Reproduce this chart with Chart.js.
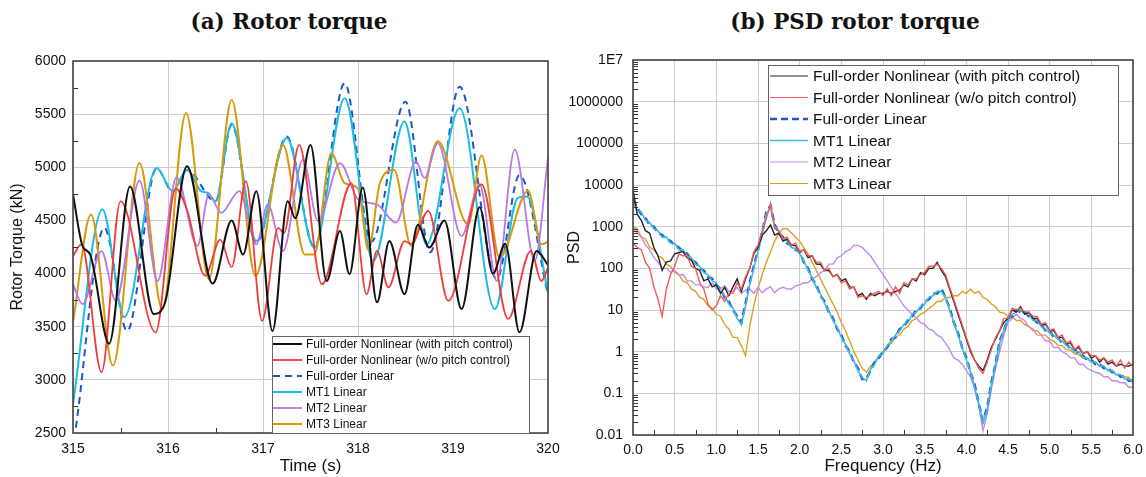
<!DOCTYPE html>
<html>
<head>
<meta charset="utf-8">
<script src="https://cdn.jsdelivr.net/npm/chart.js@4.4.1/dist/chart.umd.min.js"></script>
<style>
  body { margin: 0; background: #fff; width: 1146px; height: 477px; overflow: hidden; position: relative; }
  .title { position: absolute; top: 9px; line-height: 26px; font-family: "DejaVu Serif", serif; font-weight: bold; font-size: 21.5px; white-space: nowrap; transform: translateX(-50%); color: #111; }
  #wrapA { position: absolute; left: 0; top: 0; width: 560px; height: 477px; }
  #wrapB { position: absolute; left: 560px; top: 0; width: 586px; height: 477px; }
</style>
</head>
<body>
<div class="title" style="left:289px">(a) Rotor torque</div>
<div class="title" style="left:855px">(b) PSD rotor torque</div>
<div id="wrapA"><canvas id="torqueChart" width="560" height="477"></canvas></div>
<div id="wrapB"><canvas id="psdChart" width="586" height="477"></canvas></div>
<script>
// ---- (a) rotor torque, key points (time s, torque kN)
const blackT = [315.0, 315.1, 315.18, 315.38, 315.6, 315.85, 315.97, 316.2, 316.47, 316.67, 316.79, 316.93, 317.1, 317.26, 317.34, 317.5, 317.67, 317.81, 317.91, 318.05, 318.2, 318.33, 318.49, 318.63, 318.75, 318.91, 319.09, 319.28, 319.42, 319.55, 319.7, 319.88, 320.0];
const blackV = [4744, 4260, 4180, 3340, 4820, 3620, 3730, 5010, 3906, 4500, 4180, 4775, 3460, 4680, 4520, 5210, 3930, 4400, 3995, 4810, 3730, 4306, 3806, 4460, 4245, 4500, 3666, 4625, 4000, 4280, 3447, 4213, 4080];

const redT = [315.0, 315.09, 315.3, 315.5, 315.87, 316.08, 316.2, 316.39, 316.55, 316.67, 316.82, 316.99, 317.16, 317.22, 317.38, 317.62, 317.93, 318.09, 318.2, 318.32, 318.49, 318.56, 318.74, 318.95, 319.3, 319.58, 319.82, 319.93, 320.0];
const redV = [4166, 4275, 3072, 4680, 3447, 4800, 4600, 3980, 4320, 4060, 4870, 3556, 4430, 4380, 5210, 3900, 4850, 3806, 4213, 3870, 4306, 4280, 4590, 3744, 4840, 3575, 4213, 3930, 4055];

const fullLinT = [315.03, 315.33, 315.57, 315.88, 316.05, 316.2, 316.5, 316.67, 316.93, 317.25, 317.54, 317.86, 318.14, 318.5, 318.76, 319.07, 319.46, 319.7, 320.0];
const fullLinV = [2550, 4430, 3460, 4990, 4770, 4975, 4680, 5400, 4290, 5290, 4250, 5790, 4300, 5617, 4200, 5758, 3950, 4927, 3800];

const mt1T = [315.0, 315.31, 315.54, 315.88, 316.05, 316.2, 316.35, 316.42, 316.5, 316.67, 316.93, 317.25, 317.54, 317.86, 318.16, 318.49, 318.72, 319.07, 319.44, 319.68, 319.78, 320.0];
const mt1V = [2775, 4603, 3590, 4994, 4775, 4980, 4775, 4760, 4680, 5415, 4306, 5275, 4244, 5650, 4120, 5430, 4275, 5556, 3666, 4710, 4725, 3820];

const mt2T = [315.0, 315.1, 315.3, 315.45, 315.7, 315.89, 316.09, 316.31, 316.43, 316.56, 316.75, 316.93, 317.05, 317.21, 317.42, 317.58, 317.81, 318.0, 318.2, 318.4, 318.61, 318.7, 318.84, 319.09, 319.28, 319.46, 319.65, 319.86, 320.0];
const mt2V = [3900, 3712, 4212, 3744, 4875, 3930, 4906, 4260, 4744, 4572, 4775, 4275, 4650, 4212, 5072, 4494, 5040, 4700, 4650, 4480, 5056, 4900, 5228, 4353, 4838, 3930, 5166, 4120, 5088];

const mt3T = [315.0, 315.19, 315.42, 315.7, 315.94, 316.19, 316.43, 316.67, 316.92, 317.21, 317.44, 317.54, 317.72, 317.86, 318.0, 318.11, 318.23, 318.38, 318.56, 318.84, 319.16, 319.3, 319.49, 319.79, 319.93, 320.0];
const mt3V = [3540, 4556, 3134, 5040, 3666, 5510, 3947, 5634, 3978, 5210, 4180, 4180, 5130, 4850, 4800, 4220, 4850, 4975, 4260, 5244, 4460, 5110, 4150, 4780, 4275, 4300];

const timeTicks = { min: 315, max: 320, step: 1 };
const torqueTicks = { min: 2500, max: 6000, step: 500 };

// ---- (b) PSD of rotor torque, sampled every 0.05 Hz
const freq = [0, 0.05, 0.1, 0.15, 0.2, 0.25, 0.3, 0.35, 0.4, 0.45,
  0.5, 0.55, 0.6, 0.65, 0.7, 0.75, 0.8, 0.85, 0.9, 0.95,
  1, 1.05, 1.1, 1.15, 1.2, 1.25, 1.3, 1.35, 1.4, 1.45,
  1.5, 1.55, 1.6, 1.65, 1.7, 1.75, 1.8, 1.85, 1.9, 1.95,
  2, 2.05, 2.1, 2.15, 2.2, 2.25, 2.3, 2.35, 2.4, 2.45,
  2.5, 2.55, 2.6, 2.65, 2.7, 2.75, 2.8, 2.85, 2.9, 2.95,
  3, 3.05, 3.1, 3.15, 3.2, 3.25, 3.3, 3.35, 3.4, 3.45,
  3.5, 3.55, 3.6, 3.65, 3.7, 3.75, 3.8, 3.85, 3.9, 3.95,
  4, 4.05, 4.1, 4.15, 4.2, 4.25, 4.3, 4.35, 4.4, 4.45,
  4.5, 4.55, 4.6, 4.65, 4.7, 4.75, 4.8, 4.85, 4.9, 4.95,
  5, 5.05, 5.1, 5.15, 5.2, 5.25, 5.3, 5.35, 5.4, 5.45,
  5.5, 5.55, 5.6, 5.65, 5.7, 5.75, 5.8, 5.85, 5.9, 5.95, 6];

const psdBlack = [7900, 2000, 1410, 800, 700, 316, 200, 89, 141, 150,
  224, 240, 251, 180, 158, 100, 89, 50, 56, 36,
  40, 25, 35, 22, 36, 56, 28, 56, 100, 224,
  320, 630, 800, 1100, 630, 700, 450, 500, 360, 350,
  250, 280, 180, 200, 126, 125, 89, 89, 63, 71,
  50, 56, 36, 35, 22, 25, 18, 25, 22, 25,
  25, 28, 25, 28, 30, 40, 36, 56, 50, 79,
  71, 100, 100, 140, 89, 63, 32, 16, 7.9, 4,
  2, 1, 0.63, 0.45, 0.35, 0.63, 1.26, 2, 3.2, 5,
  6.3, 10, 9, 12, 8, 8.9, 6.3, 6.3, 4.5, 4.5,
  3.2, 3.2, 2.2, 2.2, 1.6, 1.6, 1.12, 1.26, 0.9, 1,
  0.7, 0.8, 0.56, 0.7, 0.5, 0.56, 0.45, 0.5, 0.45, 0.45, 0.5];

const psdRed = [400, 320, 280, 141, 100, 36, 18, 7, 32, 70,
  112, 224, 200, 200, 112, 100, 45, 32, 14, 10,
  12.6, 22, 16, 25, 25, 45, 32, 63, 100, 250,
  360, 800, 1580, 3550, 900, 800, 500, 560, 360, 400,
  250, 280, 200, 200, 141, 141, 89, 100, 63, 70,
  45, 50, 32, 36, 20, 22, 20, 22, 25, 28,
  22, 32, 22, 36, 25, 45, 40, 56, 56, 71,
  80, 112, 112, 126, 100, 71, 35, 18, 8.9, 4.5,
  2.2, 1.12, 0.63, 0.4, 0.3, 0.56, 1.12, 2.2, 3.2, 6.3,
  6.3, 11, 10, 11, 9, 8.9, 7, 7, 4.5, 5,
  3.2, 3.5, 2.2, 2.5, 1.6, 1.8, 1.12, 1.4, 0.9, 1,
  0.8, 0.8, 0.63, 0.71, 0.56, 0.63, 0.45, 0.63, 0.4, 0.56, 0.45];

const psdFullLin = [4500, 2800, 2000, 1580, 1120, 1000, 710, 630, 500, 450,
  355, 316, 251, 224, 158, 141, 100, 89, 63, 56,
  40, 32, 20, 16, 10, 7.1, 5, 14, 45, 112,
  280, 710, 2240, 3160, 1120, 710, 560, 400, 355, 280,
  251, 141, 100, 56, 40, 22, 16, 8.9, 6.3, 3.5,
  2.5, 1.4, 1, 0.56, 0.4, 0.22, 0.22, 0.35, 0.56, 0.71,
  1, 1.26, 2, 2.2, 3.5, 4, 5.6, 7.1, 10, 11,
  16, 18, 25, 25, 32, 20, 11, 5, 2.8, 1.26,
  0.71, 0.32, 0.16, 0.056, 0.022, 0.045, 0.18, 0.5, 1.8, 3.2,
  6.3, 7.1, 10, 8.9, 8.9, 7.1, 6.3, 5, 4.5, 3.2,
  3.2, 2.2, 2.2, 1.6, 1.6, 1.12, 1.12, 0.89, 0.79, 0.63,
  0.63, 0.5, 0.5, 0.4, 0.4, 0.32, 0.32, 0.25, 0.25, 0.2, 0.2];

const psdMT1 = [4000, 2500, 2240, 1410, 1260, 890, 790, 560, 560, 400,
  400, 280, 280, 200, 180, 126, 112, 79, 70, 50,
  45, 28, 22, 14, 11, 6.3, 4.5, 12.6, 40, 100,
  251, 630, 2000, 2820, 1000, 790, 500, 450, 316, 300,
  224, 150, 89, 60, 35, 24, 14, 9.5, 5.6, 3.8,
  2.2, 1.5, 0.89, 0.6, 0.35, 0.24, 0.2, 0.38, 0.5, 0.8,
  0.89, 1.4, 1.8, 2.5, 3.2, 4.5, 5, 7.9, 8.9, 12,
  14, 20, 22, 28, 28, 20, 10, 5, 2.5, 1.26,
  0.63, 0.32, 0.14, 0.056, 0.02, 0.04, 0.16, 0.5, 1.6, 3.2,
  5.6, 7.9, 8.9, 10, 7.9, 7.9, 5.6, 5.6, 4, 3.5,
  2.8, 2.5, 2, 1.8, 1.4, 1.26, 1, 1, 0.71, 0.71,
  0.56, 0.56, 0.45, 0.45, 0.35, 0.35, 0.28, 0.28, 0.22, 0.22, 0.18];

const psdMT2 = [1000, 700, 560, 360, 280, 180, 141, 100, 100, 80,
  89, 70, 71, 50, 50, 40, 40, 36, 35, 45,
  32, 32, 38, 28, 28, 35, 25, 30, 32, 25,
  35, 26, 32, 36, 26, 32, 35, 32, 32, 38,
  40, 45, 45, 56, 63, 79, 89, 126, 126, 178,
  200, 250, 280, 355, 355, 320, 251, 200, 141, 100,
  71, 50, 35, 25, 18, 12.6, 10, 7.9, 6.3, 5,
  4.5, 3.5, 3.2, 2.5, 2.2, 1.6, 1.12, 0.71, 0.63, 0.5,
  0.35, 0.25, 0.126, 0.05, 0.0126, 0.032, 0.126, 0.4, 1, 2.5,
  5, 6.3, 7.9, 6.3, 5.6, 4, 3.5, 2.5, 2.5, 1.8,
  1.8, 1.26, 1.26, 1, 0.89, 0.71, 0.71, 0.5, 0.5, 0.4,
  0.35, 0.32, 0.3, 0.25, 0.25, 0.2, 0.2, 0.18, 0.18, 0.14, 0.14];

const psdMT3 = [1000, 890, 560, 500, 320, 280, 200, 178, 126, 112,
  80, 71, 50, 45, 32, 28, 20, 18, 12.6, 11,
  7.9, 7.1, 4.5, 3.5, 2.2, 2.2, 1.4, 0.79, 4, 12.6,
  32, 71, 141, 251, 450, 710, 890, 890, 710, 560,
  450, 316, 224, 141, 89, 56, 35, 22, 14, 8.9,
  5, 3.2, 1.8, 1, 0.63, 0.4, 0.32, 0.45, 0.56, 0.79,
  1, 1.4, 1.6, 2.2, 2.5, 3.5, 4, 5.6, 6.3, 7.9,
  8.9, 11, 12.6, 16, 16, 20, 20, 22, 22, 28,
  25, 32, 25, 28, 20, 18, 14, 12, 8.9, 8.5,
  7.1, 7, 5.6, 5.6, 4.5, 4, 3.2, 3.2, 2.5, 2.5,
  2, 1.8, 1.4, 1.4, 1.12, 1.1, 0.89, 0.85, 0.71, 0.7,
  0.56, 0.56, 0.45, 0.45, 0.35, 0.36, 0.28, 0.28, 0.25, 0.24, 0.18];

const psdTickValues = [0.01, 0.1, 1, 10, 100, 1000, 10000, 100000, 1000000, 10000000];
const psdTickLabels = ["0.01", "0.1", "1", "10", "100", "1000", "10000", "100000", "1000000", "1E7"];

const seriesLabels = [
  "Full-order Nonlinear (with pitch control)",
  "Full-order Nonlinear (w/o pitch control)",
  "Full-order Linear",
  "MT1 Linear",
  "MT2 Linear",
  "MT3 Linear"
];

Chart.defaults.font.family = '"Liberation Sans", Arial, sans-serif';
Chart.defaults.color = "#111";

function pts(xs, ys) {
  return xs.map((x, i) => ({ x: x, y: ys[i] }));
}

// frame, minor ticks (inward) and boxed legend inside the plot
const framePlugin = {
  id: "frame",
  afterDraw(chart, args, o) {
    const ctx = chart.ctx;
    const a = chart.chartArea;
    const sx = chart.scales.x, sy = chart.scales.y;
    ctx.save();
    ctx.strokeStyle = "#333";
    ctx.lineWidth = 1;
    ctx.beginPath();
    (o.xMinor || []).forEach(v => {
      const px = Math.round(sx.getPixelForValue(v)) + 0.5;
      ctx.moveTo(px, a.bottom); ctx.lineTo(px, a.bottom - 5);
    });
    (o.yMinor || []).forEach(v => {
      const py = Math.round(sy.getPixelForValue(v)) + 0.5;
      ctx.moveTo(a.left, py); ctx.lineTo(a.left + 5, py);
    });
    ctx.stroke();

    ctx.strokeStyle = "#444";
    ctx.lineWidth = 1.6;
    ctx.strokeRect(a.left, a.top, a.right - a.left, a.bottom - a.top);

    if (o.box) {
      const b = o.box;
      ctx.fillStyle = "#fff";
      ctx.fillRect(b[0], b[1], b[2], b[3]);
      ctx.strokeStyle = "#666";
      ctx.lineWidth = 1;
      ctx.strokeRect(b[0] + 0.5, b[1] + 0.5, b[2], b[3]);
      ctx.font = o.font;
      ctx.textBaseline = "middle";
      chart.data.datasets.forEach((ds, i) => {
        const y = o.rowY + i * o.rowH;
        ctx.beginPath();
        ctx.setLineDash(ds.borderDash || []);
        ctx.strokeStyle = ds.borderColor;
        ctx.lineWidth = o.sampleWidth ? o.sampleWidth[i] : ds.borderWidth;
        ctx.moveTo(o.lineX[0], y);
        ctx.lineTo(o.lineX[1], y);
        ctx.stroke();
        ctx.setLineDash([]);
        ctx.fillStyle = "#111";
        ctx.fillText(ds.label, o.textX, y + 1);
      });
    }
    ctx.restore();
  }
};

// keep the x scale from reserving extra room for its end labels
function fixX(h) {
  return s => { s.height = h; s.paddingLeft = 0; s.paddingRight = 0; };
}

// minor tick positions
const timeMinor = [];
for (let t = 315.5; t < 320; t += 1) timeMinor.push(t);
const torqueMinor = [];
for (let v = 2750; v < 6000; v += 500) torqueMinor.push(v);
const freqMinor = [];
for (let f = 0.25; f < 6; f += 0.5) freqMinor.push(f);
const psdMinor = [];
for (let d = -2; d < 7; d++) for (let m = 2; m < 10; m++) psdMinor.push(m * Math.pow(10, d));

// ---------- (a) Rotor torque
const torqueColors = ["#111111", "#f03c3c", "#1f56c6", "#1cbde2", "#b87ae2", "#d69a0c"];

new Chart(document.getElementById("torqueChart"), {
  type: "line",
  data: {
    datasets: [
      { label: seriesLabels[0], data: pts(blackT, blackV), borderColor: torqueColors[0], borderWidth: 2 },
      { label: seriesLabels[1], data: pts(redT, redV), borderColor: torqueColors[1], borderWidth: 1.8 },
      { label: seriesLabels[2], data: pts(fullLinT, fullLinV), borderColor: torqueColors[2], borderWidth: 2, borderDash: [7, 5], order: 2 },
      { label: seriesLabels[3], data: pts(mt1T, mt1V), borderColor: torqueColors[3], borderWidth: 2, order: 1 },
      { label: seriesLabels[4], data: pts(mt2T, mt2V), borderColor: torqueColors[4], borderWidth: 1.8 },
      { label: seriesLabels[5], data: pts(mt3T, mt3V), borderColor: torqueColors[5], borderWidth: 2 }
    ]
  },
  options: {
    responsive: false,
    animation: false,
    events: [],
    layout: { padding: { top: 61, right: 12, left: 0, bottom: 0 } },
    elements: {
      point: { radius: 0 },
      line: { cubicInterpolationMode: "monotone", fill: false }
    },
    plugins: {
      legend: { display: false },
      tooltip: { enabled: false },
      frame: {
        xMinor: timeMinor,
        yMinor: torqueMinor,
        box: [272, 336, 257, 97],
        rowY: 344,
        rowH: 16,
        lineX: [273, 302],
        textX: 306,
        font: '12px "Liberation Sans", Arial, sans-serif'
      }
    },
    scales: {
      x: {
        type: "linear",
        min: timeTicks.min,
        max: timeTicks.max,
        ticks: { stepSize: timeTicks.step, padding: 8, font: { size: 14 }, callback: v => String(v) },
        grid: { color: "#cdcdcd", drawTicks: false },
        border: { display: false },
        title: { display: true, text: "Time (s)", font: { size: 17 }, padding: { top: 0, bottom: 0 } },
        afterFit: fixX(44)
      },
      y: {
        min: torqueTicks.min,
        max: torqueTicks.max,
        ticks: { stepSize: torqueTicks.step, padding: 7, font: { size: 14 }, callback: v => String(v) },
        grid: { color: "#cdcdcd", drawTicks: false },
        border: { display: false },
        title: { display: true, text: "Rotor Torque (kN)", font: { size: 16 }, padding: { top: 8, bottom: 0 } },
        afterFit(s) { s.width = 73; }
      }
    }
  },
  plugins: [framePlugin]
});

// ---------- (b) PSD rotor torque
const psdColors = ["#222222", "#f25a5a", "#2257c8", "#3bbbe3", "#c48be6", "#dda125"];

function psdSet(i, values, extra) {
  return Object.assign({
    label: seriesLabels[i],
    data: pts(freq, values),
    borderColor: psdColors[i],
    borderWidth: 1.4,
    tension: 0
  }, extra || {});
}

new Chart(document.getElementById("psdChart"), {
  type: "line",
  data: {
    datasets: [
      psdSet(0, psdBlack, { order: 2 }),
      psdSet(1, psdRed, { order: 1 }),
      psdSet(2, psdFullLin, { borderWidth: 2.5, borderDash: [7, 4], order: 4 }),
      psdSet(3, psdMT1, { borderWidth: 1.6, order: 3 }),
      psdSet(4, psdMT2, { order: 5 }),
      psdSet(5, psdMT3, { order: 6 })
    ]
  },
  options: {
    responsive: false,
    animation: false,
    events: [],
    layout: { padding: { top: 60, right: 13, left: 0, bottom: 0 } },
    elements: { point: { radius: 0 } },
    plugins: {
      legend: { display: false },
      tooltip: { enabled: false },
      frame: {
        xMinor: freqMinor,
        yMinor: psdMinor,
        box: [208, 65, 350, 130],
        rowY: 76,
        rowH: 21.5,
        lineX: [210, 248],
        textX: 253,
        sampleWidth: [1, 1, 2.5, 1.5, 1, 1],
        font: '15.5px "Liberation Sans", Arial, sans-serif'
      }
    },
    scales: {
      x: {
        type: "linear",
        min: 0,
        max: 6,
        ticks: { stepSize: 0.5, padding: 7, font: { size: 14 }, callback: v => Number(v).toFixed(1) },
        grid: { color: "#cdcdcd", drawTicks: false },
        border: { display: false },
        title: { display: true, text: "Frequency (Hz)", font: { size: 17 }, padding: { top: 0, bottom: 0 } },
        afterFit: fixX(42)
      },
      y: {
        type: "logarithmic",
        min: 0.01,
        max: 10000000,
        afterBuildTicks(s) { s.ticks = psdTickValues.map(v => ({ value: v })); },
        ticks: { padding: 10, font: { size: 14 }, callback: (v, i) => psdTickLabels[i] },
        grid: { color: "#cdcdcd", drawTicks: false },
        border: { display: false },
        title: { display: true, text: "PSD", font: { size: 16 }, padding: { top: 5, bottom: 0 } },
        afterFit(s) { s.width = 73; }
      }
    }
  },
  plugins: [framePlugin]
});
</script>
</body>
</html>
